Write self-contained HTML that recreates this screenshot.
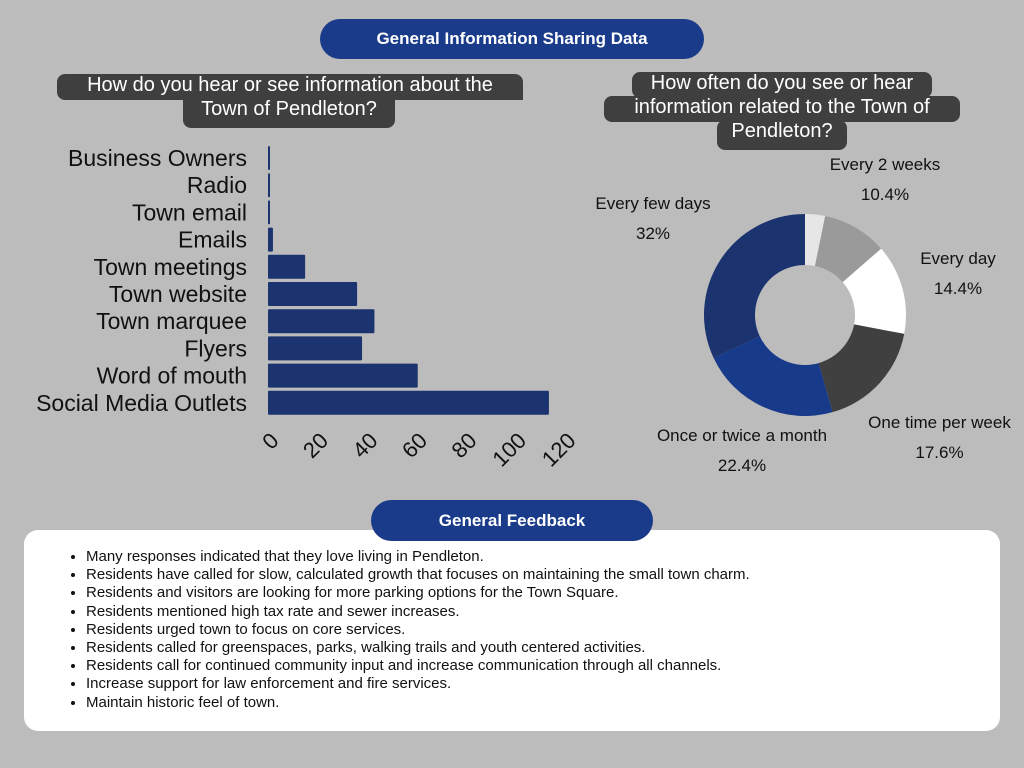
<!DOCTYPE html>
<html><head><meta charset="utf-8"><style>
body{margin:0;width:1024px;height:768px;background:#bcbcbc;font-family:"Liberation Sans",sans-serif;position:relative;overflow:hidden}
.pill{position:absolute;background:#1a3a8a;color:#fff;font-weight:bold;text-align:center;border-radius:22px}
.dark{position:absolute;background:#3f3f3f;color:#fff;text-align:center;font-size:20px;line-height:22px;border-radius:8px}
.lbl{position:absolute;font-size:17px;color:#111;text-align:center;line-height:30px}
#fb{position:absolute;left:24px;top:530px;width:976px;height:201px;background:#fff;border-radius:14px}
#fb ul{margin:0;padding:18px 0 0 62px;font-size:15px;line-height:18.2px;color:#111}
</style></head><body>
<div class="pill" style="left:320px;top:19px;width:384px;height:40px;line-height:40px;font-size:17px">General Information Sharing Data</div>
<div class="dark" style="left:57px;top:74px;width:466px;height:26px;border-radius:8px 8px 0 8px">How do you hear or see information about the</div>
<div class="dark" style="left:183px;top:98px;width:212px;height:30px;border-radius:0 0 8px 8px">Town of Pendleton?</div>
<div class="dark" style="left:632px;top:72px;width:300px;height:26px">How often do you see or hear</div>
<div class="dark" style="left:604px;top:96px;width:356px;height:26px">information related to the Town of</div>
<div class="dark" style="left:717px;top:120px;width:130px;height:30px">Pendleton?</div>
<svg id="bars" width="600" height="480" style="position:absolute;left:0;top:0"></svg>
<svg id="donut" width="1024" height="480" style="position:absolute;left:0;top:0"></svg>
<div class="lbl" style="left:810px;top:150px;width:150px">Every 2 weeks<br>10.4%</div>
<div class="lbl" style="left:578px;top:189px;width:150px">Every few days<br>32%</div>
<div class="lbl" style="left:898px;top:244px;width:120px">Every day<br>14.4%</div>
<div class="lbl" style="left:852px;top:408px;width:175px">One time per week<br>17.6%</div>
<div class="lbl" style="left:637px;top:421px;width:210px">Once or twice a month<br>22.4%</div>
<div id="fb"><ul>
<li>Many responses indicated that they love living in Pendleton.</li>
<li>Residents have called for slow, calculated growth that focuses on maintaining the small town charm.</li>
<li>Residents and visitors are looking for more parking options for the Town Square.</li>
<li>Residents mentioned high tax rate and sewer increases.</li>
<li>Residents urged town to focus on core services.</li>
<li>Residents called for greenspaces, parks, walking trails and youth centered activities.</li>
<li>Residents call for continued community input and increase communication through all channels.</li>
<li>Increase support for law enforcement and fire services.</li>
<li>Maintain historic feel of town.</li></ul></div>
<div class="pill" style="left:371px;top:500px;width:282px;height:41px;line-height:41px;font-size:17px">General Feedback</div>
<script>
const categories=["Business Owners","Radio","Town email","Emails","Town meetings","Town website","Town marquee","Flyers","Word of mouth","Social Media Outlets"];
const values=[0.6,0.6,0.6,2,15,36,43,38,60.5,113.5];
const ticks=[0,20,40,60,80,100,120];
const donutLabels=["Other","Every 2 weeks","Every day","One time per week","Once or twice a month","Every few days"];
const donutValues=[3.2,10.4,14.4,17.6,22.4,32];
const ns="http://www.w3.org/2000/svg";
const b=document.getElementById('bars');
const x=v=>268+v*2.475, y=i=>146+i*27.2;
categories.forEach((c,i)=>{
 const r=document.createElementNS(ns,'rect');
 
 
 r.setAttribute('x',x(0));r.setAttribute('y',y(i));r.setAttribute('width',Math.max(2,x(values[i])-x(0)));r.setAttribute('height',24);r.setAttribute('fill','#1b336e');r.setAttribute('rx',1);b.appendChild(r);
 const t=document.createElementNS(ns,'text');
 
 
 t.setAttribute('x',247);t.setAttribute('y',y(i)+20);t.setAttribute('text-anchor','end');t.setAttribute('font-size','23');t.setAttribute('fill','#111');t.setAttribute('textLength',0);t.removeAttribute('textLength');t.textContent=c;b.appendChild(t);
});
ticks.forEach(v=>{
 const t=document.createElementNS(ns,'text');
 
 
 const tx=x(v)+12,ty=442;
 t.setAttribute('x',tx);t.setAttribute('y',ty);t.setAttribute('text-anchor','end');t.setAttribute('font-size','22');t.setAttribute('fill','#111');
 t.setAttribute('transform','rotate(-45 '+tx+' '+ty+')');t.textContent=v;b.appendChild(t);
});
const d=document.getElementById('donut');
const cx=805,cy=315,R=101,r0=50;
const cols=["#e6e6e6","#9a9a9a","#ffffff","#404040","#183a8a","#1b336e"];
const tot=donutValues.reduce((a,b)=>a+b,0);let a=0;
donutValues.forEach((v,i)=>{
 const a1=a,a2=a+v/tot*2*Math.PI;a=a2;
 const p=(rr,t)=>[cx+rr*Math.sin(t),cy-rr*Math.cos(t)];
 const [x1,y1]=p(R,a1),[x2,y2]=p(R,a2),[x3,y3]=p(r0,a2),[x4,y4]=p(r0,a1);
 const lg=(a2-a1)>Math.PI?1:0;
 const s=document.createElementNS(ns,'path');
 
 
 s.setAttribute('d',`M${x1},${y1}A${R},${R} 0 ${lg} 1 ${x2},${y2}L${x3},${y3}A${r0},${r0} 0 ${lg} 0 ${x4},${y4}Z`);
 s.setAttribute('fill',cols[i]);d.appendChild(s);
});
</script>
</body></html>
